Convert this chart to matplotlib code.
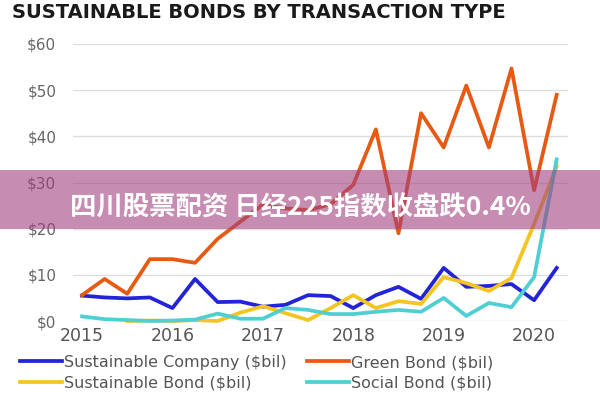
import numpy as np
import matplotlib
matplotlib.use("Agg")
import matplotlib.pyplot as plt
from matplotlib.patches import Rectangle

# quarterly values, 2015 Q1 .. 2020 Q2 ($bil)
quarters = list(range(22))
sust_company = [5.5, 5.1, 4.9, 5.1, 2.8, 9.1, 4.1, 4.2, 3.1, 3.5, 5.6, 5.4,
                2.8, 5.6, 7.4, 4.8, 11.5, 7.4, 7.6, 8.0, 4.5, 11.5]
green_bond = [5.6, 9.1, 5.9, 13.4, 13.4, 12.6, 17.8, 21.5, 25.2, 24.4, 24.0, 25.3,
              29.5, 41.5, 19.0, 45.0, 37.6, 51.0, 37.6, 54.7, 28.3, 49.0]
sust_bond = [np.nan, np.nan, 0.0, 0.1, 0.0, 0.2, 0.0, 1.8, 3.2, 1.7, 0.2, 2.8,
             5.6, 2.8, 4.3, 3.7, 9.5, 8.2, 6.5, 9.3, 21.0, 33.5]
social_bond = [1.0, 0.4, 0.2, 0.0, 0.1, 0.3, 1.6, 0.5, 0.5, 2.8, 2.4, 1.5,
               1.5, 2.0, 2.4, 2.0, 5.0, 1.1, 3.9, 3.0, 9.5, 35.0]

year_ticks = [0, 4, 8, 12, 16, 20]
year_labels = ["2015", "2016", "2017", "2018", "2019", "2020"]
y_ticks = [0, 10, 20, 30, 40, 50, 60]
y_labels = ["$0", "$10", "$20", "$30", "$40", "$50", "$60"]

title = "SUSTAINABLE BONDS BY TRANSACTION TYPE"
banner = "四川股票配资 日经225指数收盘跌0.4%"

plt.rcParams['font.family'] = ['DejaVu Sans']

fig = plt.figure(figsize=(6, 4), dpi=100)
ax = fig.add_axes([73/600, 1-321/400, 495/600, 277/400])

lw = 2.7
l1, = ax.plot(quarters, sust_company, color="#2323D8", lw=lw, clip_on=False, label="Sustainable Company ($bil)")
l2, = ax.plot(quarters, green_bond, color="#E65A14", lw=lw, clip_on=False, label="Green Bond ($bil)")
l3, = ax.plot(quarters, sust_bond, color="#F4C521", lw=lw, clip_on=False, label="Sustainable Bond ($bil)")
l4, = ax.plot(quarters, social_bond, color="#4FCFD2", lw=lw, clip_on=False, label="Social Bond ($bil)")

ax.set_xlim(-0.4, 21.5)
ax.set_ylim(0, 60)
ax.set_yticks(y_ticks)
ax.set_yticklabels(y_labels)
ax.set_xticks(year_ticks)
ax.set_xticklabels(year_labels)
ax.tick_params(axis="both", length=0, colors="#666666", labelsize=11)
ax.tick_params(axis="y", pad=12)
ax.tick_params(axis="x", pad=4)
for lab in ax.get_xticklabels():
    lab.set_fontsize(12.5)
    lab.set_color("#555555")
ax.grid(axis="y", color="#DDDDDD", lw=0.9)
ax.set_axisbelow(True)
for s in ax.spines.values():
    s.set_visible(False)

fig.text(12/600, 1-13/400, title, fontsize=14, fontweight="bold", color="#1A1A1A", va="center")

fig.legend(handles=[l1, l3, l2, l4], ncol=2, loc="upper left", bbox_to_anchor=(20/600, 1-355/400),
           frameon=False, fontsize=11.5, handlelength=2.6, handletextpad=0.15, columnspacing=1.3,
           labelspacing=0.35, labelcolor="#555555", borderaxespad=0, borderpad=0)

# overlay banner
fig.patches.append(Rectangle((0, 1-229/400), 1, 59/400, transform=fig.transFigure,
                             facecolor="#A03F7F", alpha=0.6, edgecolor="none", zorder=5))
fig.text(0.5, 1-208/400, banner, fontsize=19, fontweight="bold", color="white",
         ha="center", va="center", family=['Noto Sans CJK SC', 'DejaVu Sans'], zorder=6)

fig.savefig("out.png", dpi=100)
